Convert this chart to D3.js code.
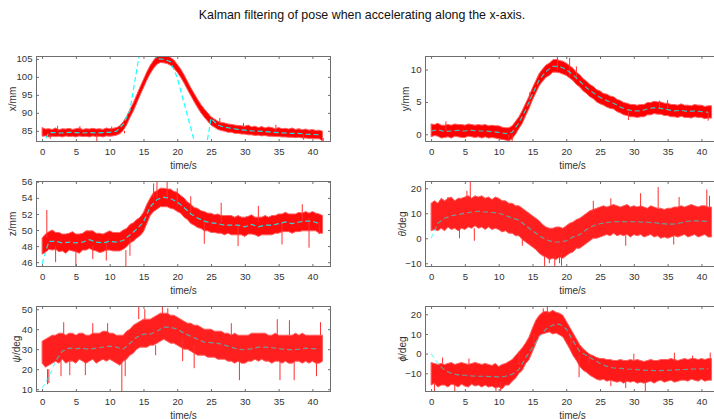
<!DOCTYPE html>
<html>
<head>
<meta charset="utf-8">
<script src="https://cdn.jsdelivr.net/npm/d3@7"></script>
<style>
body { margin: 0; background: #fff; }
svg { display: block; font-family: "Liberation Sans", Arial, Helvetica, sans-serif; }
</style>
</head>
<body>
<div id="chart"></div>
<script>

// ---- data ----
var titleText = "Kalman filtering of pose when accelerating along the x-axis.";

var measTime = d3.range(0, 42, 0.5);   // red measurement envelope, every 0.5 s
var kfTime = d3.range(0, 42, 1);        // filtered estimate, every 1 s
var timeTicks = [0, 5, 10, 15, 20, 25, 30, 35, 40];

// x/mm
var xLo = [83.5,83.6,83.3,83.5,83.4,83.5,83.3,83.6,83.4,83.5, 83.3,83.6,83.4,83.5,83.3,83.6,83.4,83.5,83.3,83.6,
	83.5,83.6,83.8,84.2,85.1,86.6,88.7,90.5,92.7,94.9, 97.0,99.1,100.9,102.4,103.5,104.0,103.9,103.7,103.2,102.4,
	101.3,99.9,98.3,96.5,94.8,93.1,91.5,90.0,88.8,87.7, 86.6,86.0,85.4,85.1,84.9,84.6,84.6,84.3,84.3,84.1,
	84.1,83.9,83.9,83.7,83.8,83.6,83.7,83.5,83.5,83.4, 83.4,83.3,83.3,83.2,83.2,83.1,83.2,83.0,83.0,82.9, 82.9,82.8,82.8,82.2];
var xHi = [85.9,85.5,85.6,85.4,85.8,85.3,85.6,85.5,85.7,85.4, 85.6,85.8,85.4,85.6,85.5,85.7,85.5,85.6,85.4,85.8,
	85.6,85.7,85.9,86.4,87.5,89.0,91.0,92.8,95.0,97.2, 99.3,101.4,103.2,104.6,105.8,106.2,106.1,105.9,105.4,104.7,
	103.5,102.2,100.6,98.8,97.0,95.4,93.8,92.3,91.1,90.0, 88.9,88.3,87.7,87.3,87.2,86.9,86.8,86.6,86.5,86.4,
	86.3,86.6,86.1,86.3,85.9,86.2,85.8,86.1,85.9,85.6, 85.9,85.6,85.7,85.5,85.8,85.4,85.6,85.3,85.5,85.2, 85.4,85.1,85.2,84.9];
var xSpikes = [[1.2,84,82.8],[2.3,85,86.4],[5.6,85,86.3],[8.1,84,82.0],[10.3,85,86.2],[12.2,85,84.3],
	[26.3,87,88.6],[29.8,86,87.2],[34.6,85,86.7],[38.7,84,82.5],[41.6,83,81.9]];
var xKf = [81.0,84.5,84.5,84.4,84.6,84.5,84.4,84.5,84.4,84.5,84.6,84.9,86.8,90.7,101.9,113,112,105,104.9,104.2,
	99.8,92.8,85.8,78.8,77.2,88.5,86.6,86.0,85.7,85.4,85.2,85.0,84.9,84.8,84.6,84.5,84.4,84.3,84.3,84.1,84.0,83.9];

// y/mm
var yLo = [-0.4,-0.2,-0.3,-0.6,-0.5,-0.4,-0.6,-0.3,-0.4,-0.5, -0.5,-0.3,-0.4,-0.5,-0.4,-0.6,-0.4,-0.6,-0.5,-0.6,
	-0.7,-0.8,-0.9,-1.0,-0.7,0.0,0.9,1.7,2.9,4.0, 5.3,6.4,7.5,8.2,8.8,9.1,9.6,9.6,9.5,9.3,
	9.1,8.7,8.3,7.7,7.3,6.7,6.3,5.8,5.5,5.0, 4.7,4.5,4.2,4.0,3.9,3.5,3.3,3.0,2.9,2.7,
	2.7,2.6,2.7,2.7,3.0,3.0,3.2,3.1,3.1,2.9, 2.9,2.7,2.7,2.6,2.8,2.6,2.6,2.5,2.7,2.6, 2.6,2.4,2.5,2.5];
var yHi = [1.6,1.5,1.7,1.4,1.4,1.5,1.4,1.6,1.5,1.5, 1.4,1.6,1.5,1.4,1.5,1.4,1.5,1.3,1.4,1.3,
	1.3,1.1,1.0,1.0,1.3,2.0,2.7,3.7,4.8,5.9, 7.2,8.3,9.4,10.1,10.7,11.0,11.5,11.6,11.4,11.3,
	11.0,10.6,10.2,9.6,9.2,8.6,8.2,7.7,7.4,6.9, 6.7,6.3,6.2,5.9,5.8,5.4,5.2,4.9,4.8,4.6,
	4.6,4.5,4.6,4.6,4.9,4.9,5.1,5.0,5.0,4.8, 4.8,4.6,4.6,4.5,4.7,4.5,4.5,4.4,4.6,4.5, 4.5,4.3,4.4,4.4];
var ySpikes = [[2.2,0.5,2.0],[11.5,0,-1.1],[12.0,0,-1.2],[14.6,4.5,6.5],[18.7,10,12.0],[20.5,9,11.8],
	[21.5,8.5,10.5],[29.2,3.5,2.2],[33.8,4,5.2],[35.0,4,5.3],[41.0,3.4,2.1]];
var yKf = [0.5,0.7,0.4,0.5,0.6,0.5,0.6,0.5,0.5,0.4,0.3,0.1,0.3,1.8,3.8,6.2,8.4,9.7,10.5,10.5,
	10.0,9.2,8.2,7.2,6.4,5.7,5.2,4.8,4.2,3.8,3.6,3.6,3.9,4.1,4.0,3.8,3.6,3.7,3.5,3.6,3.5,3.4];

// z/mm
var zLo = [47.0,47.2,47.6,47.5,47.6,47.3,47.4,47.1,47.5,47.4, 47.3,47.1,47.5,47.5,47.7,47.5,47.4,47.2,47.3,47.5,
	47.5,47.4,47.4,47.4,47.6,47.9,48.4,48.6,49.0,49.3, 49.8,50.8,51.8,52.3,52.6,52.9,52.9,52.9,52.7,52.6,
	52.3,52.1,51.6,51.3,50.8,50.6,50.3,50.2,49.9,49.9, 49.7,49.7,49.6,49.6,49.4,49.6,49.4,49.4,49.4,49.4,
	49.2,49.5,49.5,49.4,49.2,49.4,49.4,49.4,49.4,49.6, 49.6,49.8,49.8,49.8,49.6,49.8,49.8,49.9,49.9,49.9, 49.9,49.9,49.6,49.6];
var zHi = [49.0,49.5,49.8,50.0,49.7,49.7,49.5,49.5,49.6,49.8, 49.5,49.5,49.6,49.9,49.9,49.9,49.6,49.6,49.5,49.7,
	49.9,49.7,49.7,49.7,50.0,50.2,50.7,50.9,51.3,51.6, 52.2,53.2,54.0,54.7,54.9,55.2,55.2,55.1,55.1,54.8,
	54.7,54.3,54.0,53.5,53.2,52.8,52.7,52.4,52.3,52.1, 52.1,51.9,52.0,51.8,51.8,51.8,51.8,51.6,51.8,51.6,
	51.6,51.7,51.9,51.6,51.6,51.6,51.8,51.6,51.8,51.8, 52.0,52.0,52.2,52.0,52.0,52.0,52.2,52.1,52.3,52.1, 52.3,52.1,52.0,51.8];
var zSpikes = [[0.7,49,52.5],[2.0,48,46.0],[5.0,47.5,45.4],[7.5,48,46.4],[9.5,48.5,46.2],[12.4,47.5,45.4],
	[13.0,49,46.8],[16.5,54,55.8],[17.0,54,56.1],[18.5,54,56.1],[20.0,53,55.2],[22.0,52,54.2],[24.0,51,48.3],
	[26.5,51,53.4],[29.0,50.5,48.0],[32.0,51,53.0],[35.5,51,48.2],[38.5,51,53.2],[39.5,51.5,47.8],[41.0,51,49.5]];
var zKf = [45.8,48.6,48.6,48.4,48.5,48.4,48.5,48.8,48.5,48.4,48.6,48.5,48.7,49.4,50.1,51.0,52.9,53.8,54.1,53.9,
	53.5,52.8,52.0,51.5,51.1,50.9,50.8,50.6,50.6,50.6,50.4,50.7,50.4,50.6,50.6,50.8,51.0,50.8,51.0,51.1,51.1,50.8];

// theta/deg
var thetaLo = [3,3.5,3,4,3,4.5,3.5,4,3,4, 3.5,4.5,4,5,4,4.5,3.5,4.5,3.5,4,
	3.5,2.5,3,2,2,1,1,-0.5,-1.5,-2.5, -3.5,-4.5,-6,-7,-7.5,-8.5,-8,-8.5,-7.5,-8,
	-7,-6,-5.5,-4,-4,-3,-2,-1,0,0, 0.5,1,1.5,1,2,1,1.5,1,1.5,0.5,
	1.5,1,1.5,0.5,1,1.5,0.5,1,0,0.5, 0,0.5,1,0.5,1,1.5,0.5,1,1.5,0.5, 1,1.5,0.5,0.5];
var thetaHi = [14,15,14,16,15,16,16.5,15,16,16, 16.5,17,16,17,16.5,17,16,16.5,15.5,16.5,
	16,15,15,14,14,13,13,12,11,10, 9,8,7,5.5,4.5,4,4,4.5,4.5,4,
	5,6,6.5,7.5,8,9,10,11,11.5,12, 12.5,13,12.5,13,13.5,13,12.5,13,13.5,12.5,
	13,12.5,13,12.5,12,13,12.5,12,12,11.5, 12,12,12.5,12.5,13,12.5,13,13.5,13,12.5, 13,13,12.5,12.5];
var thetaSpikes = [[2.5,14,16.5],[4.2,4,0],[5.3,15,19],[5.8,16,22.9],[6.4,4,-1],[13.5,0,-3],[16.8,-7,-11.5],
	[17.5,-7,-10],[18.3,-7,-11.5],[19.0,-7,-10],[19.3,-6,-11],[24.0,10,15],[26.6,13,16],[28.8,1,-3],
	[31.0,12,18],[33.6,12,20.5],[35.9,1,-2.5],[36.7,12,16.5],[40.8,12,19.5],[41.2,12,17]];
var thetaKf = [0,6,8,9,9.5,10,10.5,10.8,10.5,10.3,10,9.2,8,7.3,5,3,1,-0.5,-1.5,-1.5,
	-1,0.5,1.5,3.5,5,5.8,6.3,6.6,6.7,6.6,6.6,6.5,6.4,6.2,5.9,5.6,5.7,6.2,6.8,7.0,6.9,6.7];

// psi/deg
var psiLo = [23,21,22,23,24,23,25,23,24,24, 23,25,24,23,24,25,23,24,25,24,
	25,24,23,22,24,25,27,28,30,31, 31,31,32,32,33,34,35,34,33,33,
	32,31,30,30,29,28,27,27,27,26, 26,26,25,25,25,24,24,23,24,23,
	23,24,24,25,24,25,24,24,23,24, 24,23,24,23,23,24,24,23,24,23, 24,23,23,24];
var psiHi = [34,35,36,37,37,38,38,37,38,38, 37,38,38,37,37,38,38,38,39,39,
	38,38,37,37,37,39,40,42,43,44, 45,45,45,46,47,48,48,48,47,47,
	46,45,44,43,43,42,42,41,40,40, 40,39,39,39,38,38,37,38,37,37,
	37,37,38,38,38,38,38,37,37,38, 37,37,37,37,37,38,37,38,37,37, 37,37,37,37];
var psiSpikes = [[0.8,20,12.5],[1.0,20,13],[2.8,24,16.5],[3.2,37,43.5],[4.1,24,17],[6.4,24,17],[7.5,37,43],
	[9.7,37,43],[11.8,25,8.6],[12.3,25,16.5],[14.3,45,51.6],[15.2,45,50],[16.8,32,27],[17.8,47,51.6],
	[18.6,47,50.5],[20.8,35,24],[22.5,32,20.5],[28.0,37,43],[29.2,24,14.5],[34.8,37,45],[35.2,24,14.5],
	[36.6,37,44.5],[37.3,24,14.5],[40.6,24,16.5],[41.2,37,43.5]];
var psiKf = [10.5,16,24,29,30.5,30.3,30.5,30,30.5,31,31.5,31,30,33,36,37.5,37.5,39,41,41,
	40,38,36.5,35,33.5,33.3,33,32,31,30,29.7,30.3,31,31,30.8,30.3,29.8,29.8,30,30.5,30.3,30];

// phi/deg
var phiLo = [-16,-15,-17,-16,-16,-17,-15.5,-16,-17,-15.5, -16.5,-17,-15.5,-16.5,-16,-17,-16,-17,-16.5,-17.5,
	-17,-18,-16,-16,-14,-12.5,-10,-8.5,-5,-3, 1,5,9,10,10.5,11,10,10.5,9.5,8.5,
	5.5,2.5,-1,-3.5,-6.5,-8.5,-9.5,-11,-12,-13, -13.5,-13,-14,-13.5,-14,-14.5,-14,-15,-14,-14.5,
	-14,-15,-14.5,-15,-14.5,-14,-15,-14,-13.5,-14.5, -14,-13.5,-14.5,-14,-13.5,-13.5,-14,-13,-13.5,-14, -13,-14,-13.5,-13.5];
var phiHi = [-4.5,-5,-5.5,-5,-5.5,-5,-4.5,-5.5,-5,-4.5, -5,-5.5,-5,-4.5,-5,-5.5,-5,-5.5,-6,-5,
	-6.5,-5.5,-5,-4,-3,-1,1,3,5.5,8.5, 13,17,19.5,21,21.5,21,22,21,20.5,19.5,
	16.5,13.5,10.5,7.5,4.5,2.5,1,-0.5,-1,-2, -2.5,-2.5,-3,-3,-3.5,-3.5,-3,-3.5,-3.5,-3,
	-3.5,-3,-3.5,-4,-3.5,-3,-3.5,-3.5,-3,-3, -3,-2.5,-3,-3.5,-3,-2.5,-3,-2.5,-2.5,-3, -2.5,-3,-2.5,-2.5];
var phiSpikes = [[0.5,-15,-19.5],[1.7,-5,-2],[3.5,-15,-19],[5.6,-6,-2.5],[9.6,-15,-19],[10.3,-15,-19.5],
	[13.0,-6,1],[15.2,10,5],[16.6,20,23],[17.2,20,24.2],[20.7,10,3],[21.9,0,-12],[23.4,-5,0],[26.6,-13,-16.5],
	[28.8,-13,-17.5],[30.0,-4,0],[31.7,-13,-19.5],[36.0,-4,0.5],[38.7,-4,-1],[41.3,-4,0.5]];
var phiKf = [0,-5,-8.5,-10,-10.8,-11,-11.3,-11.5,-11.5,-11.7,-11.8,-11.5,-10.5,-8,-2,3,8.5,12.5,14.5,15,
	12.5,6.5,1,-1,-3,-5,-6.5,-7.3,-7.5,-7.8,-8,-8.3,-8.5,-8.6,-8.6,-8.5,-8.3,-8.1,-8,-7.8,-7.7,-7.6];

// ---- layout ----
var W = 714, H = 419;
var colLeft = [36, 425];
var rowTop = [56, 181, 306];
var plotW = 295, plotH = 86;
var timeDomain = [-0.9, 42.75];
var axisColor = "#6e6e6e", textColor = "#333";

var panels = [
	{ label: ["x/mm"], lo: xLo, hi: xHi, spikes: xSpikes, kf: xKf, domain: [81.9, 105.8], ticks: [85, 90, 95, 100, 105], col: 0, row: 0, gap: 24, kfAlpha: 0.9, bandAlpha: 1 },
	{ label: ["y/mm"], lo: yLo, hi: yHi, spikes: ySpikes, kf: yKf, domain: [-1.2, 12.1], ticks: [0, 5, 10], col: 1, row: 0, gap: 20, kfAlpha: 0.75, bandAlpha: 1 },
	{ label: ["z/mm"], lo: zLo, hi: zHi, spikes: zSpikes, kf: zKf, domain: [45.4, 56.1], ticks: [46, 48, 50, 52, 54, 56], col: 0, row: 1, gap: 24, kfAlpha: 0.85, bandAlpha: 0.95 },
	{ label: ["θ", "/deg"], lo: thetaLo, hi: thetaHi, spikes: thetaSpikes, kf: thetaKf, domain: [-11.5, 22.9], ticks: [-10, 0, 10, 20], col: 1, row: 1, gap: 23, kfAlpha: 0.55, bandAlpha: 0.88 },
	{ label: ["ψ", "/deg"], lo: psiLo, hi: psiHi, spikes: psiSpikes, kf: psiKf, domain: [8.6, 51.6], ticks: [10, 20, 30, 40, 50], col: 0, row: 2, gap: 20, kfAlpha: 0.55, bandAlpha: 0.88 },
	{ label: ["ϕ", "/deg"], lo: phiLo, hi: phiHi, spikes: phiSpikes, kf: phiKf, domain: [-19.5, 24.2], ticks: [-10, 0, 10, 20], col: 1, row: 2, gap: 23, kfAlpha: 0.55, bandAlpha: 0.9 }
];

var svg = d3.select("#chart").append("svg")
	.attr("width", W)
	.attr("height", H);

svg.append("rect").attr("width", W).attr("height", H).attr("fill", "#fff");

// figure title
svg.append("text")
	.attr("x", 362)
	.attr("y", 15)
	.attr("text-anchor", "middle")
	.attr("dominant-baseline", "central")
	.style("font-size", "12.4px")
	.attr("fill", "#111")
	.text(titleText);

var defs = svg.append("defs");

panels.forEach(function(p, k) {

	var left = colLeft[p.col], top = rowTop[p.row];

	var x = d3.scaleLinear().domain(timeDomain).range([0, plotW]);
	var y = d3.scaleLinear().domain(p.domain).range([plotH, 0]);

	defs.append("clipPath").attr("id", "clip" + k)
		.append("rect").attr("width", plotW).attr("height", plotH);

	var g = svg.append("g").attr("transform", "translate(" + left + "," + top + ")");
	var plot = g.append("g").attr("clip-path", "url(#clip" + k + ")");

	// measurement noise envelope
	var band = measTime.map(function(t, i) { return { t: t, lo: p.lo[i], hi: p.hi[i] }; });
	plot.append("path")
		.datum(band)
		.attr("fill", "#ff0000")
		.attr("fill-opacity", p.bandAlpha)
		.attr("stroke", "#ff6060")
		.attr("stroke-width", 1)
		.attr("d", d3.area()
			.x(function(d) { return x(d.t); })
			.y0(function(d) { return y(d.lo); })
			.y1(function(d) { return y(d.hi); }));

	// single outlying samples
	plot.selectAll("line.spike")
		.data(p.spikes)
		.enter()
		.append("line")
		.attr("class", "spike")
		.attr("x1", function(d) { return x(d[0]); })
		.attr("x2", function(d) { return x(d[0]); })
		.attr("y1", function(d) { return y(d[1]); })
		.attr("y2", function(d) { return y(d[2]); })
		.attr("stroke", "#ff3030")
		.attr("stroke-width", 1);

	// kalman estimate
	plot.append("path")
		.datum(kfTime.map(function(t, i) { return [t, p.kf[i]]; }))
		.attr("fill", "none")
		.attr("stroke", "#00ffff")
		.attr("stroke-opacity", p.kfAlpha)
		.attr("stroke-width", 1.2)
		.attr("stroke-dasharray", "5,3")
		.attr("d", d3.line()
			.x(function(d) { return x(d[0]); })
			.y(function(d) { return y(d[1]); }));

	// axes, ticks on all four sides (matlab box)
	var axB = g.append("g").attr("transform", "translate(0," + plotH + ")")
		.call(d3.axisBottom(x).tickValues(timeTicks).tickSize(-3).tickPadding(6.5));
	var axT = g.append("g")
		.call(d3.axisTop(x).tickValues(timeTicks).tickSize(-3).tickFormat(""));
	var axL = g.append("g")
		.call(d3.axisLeft(y).tickValues(p.ticks).tickSize(-3).tickPadding(3.5));
	var axR = g.append("g").attr("transform", "translate(" + plotW + ",0)")
		.call(d3.axisRight(y).tickValues(p.ticks).tickSize(-3).tickFormat(""));

	[axB, axT, axL, axR].forEach(function(a) {
		a.select(".domain").remove();
		a.selectAll(".tick line").attr("stroke", axisColor);
		a.selectAll(".tick text")
			.attr("fill", textColor)
			.style("font-size", "9.6px")
			.style("font-family", "'Liberation Sans', Arial, sans-serif");
	});

	g.append("rect")
		.attr("x", 0.5).attr("y", 0.5)
		.attr("width", plotW - 1).attr("height", plotH - 1)
		.attr("fill", "none")
		.attr("stroke", axisColor)
		.attr("stroke-width", 1);

	// axis labels
	g.append("text")
		.attr("x", plotW / 2)
		.attr("y", plotH + 23)
		.attr("text-anchor", "middle")
		.attr("dominant-baseline", "central")
		.style("font-size", "10px")
		.attr("fill", textColor)
		.text("time/s");

	var yl = g.append("text")
		.attr("transform", "translate(" + (-p.gap) + "," + (plotH / 2) + ") rotate(-90)")
		.attr("text-anchor", "middle")
		.attr("dominant-baseline", "central")
		.style("font-size", "10px")
		.attr("fill", textColor);
	p.label.forEach(function(s, j) {
		yl.append("tspan")
			.style("font-style", (j === 0 && p.label.length > 1) ? "italic" : "normal")
			.text(s);
	});
});

</script>
</body>
</html>
